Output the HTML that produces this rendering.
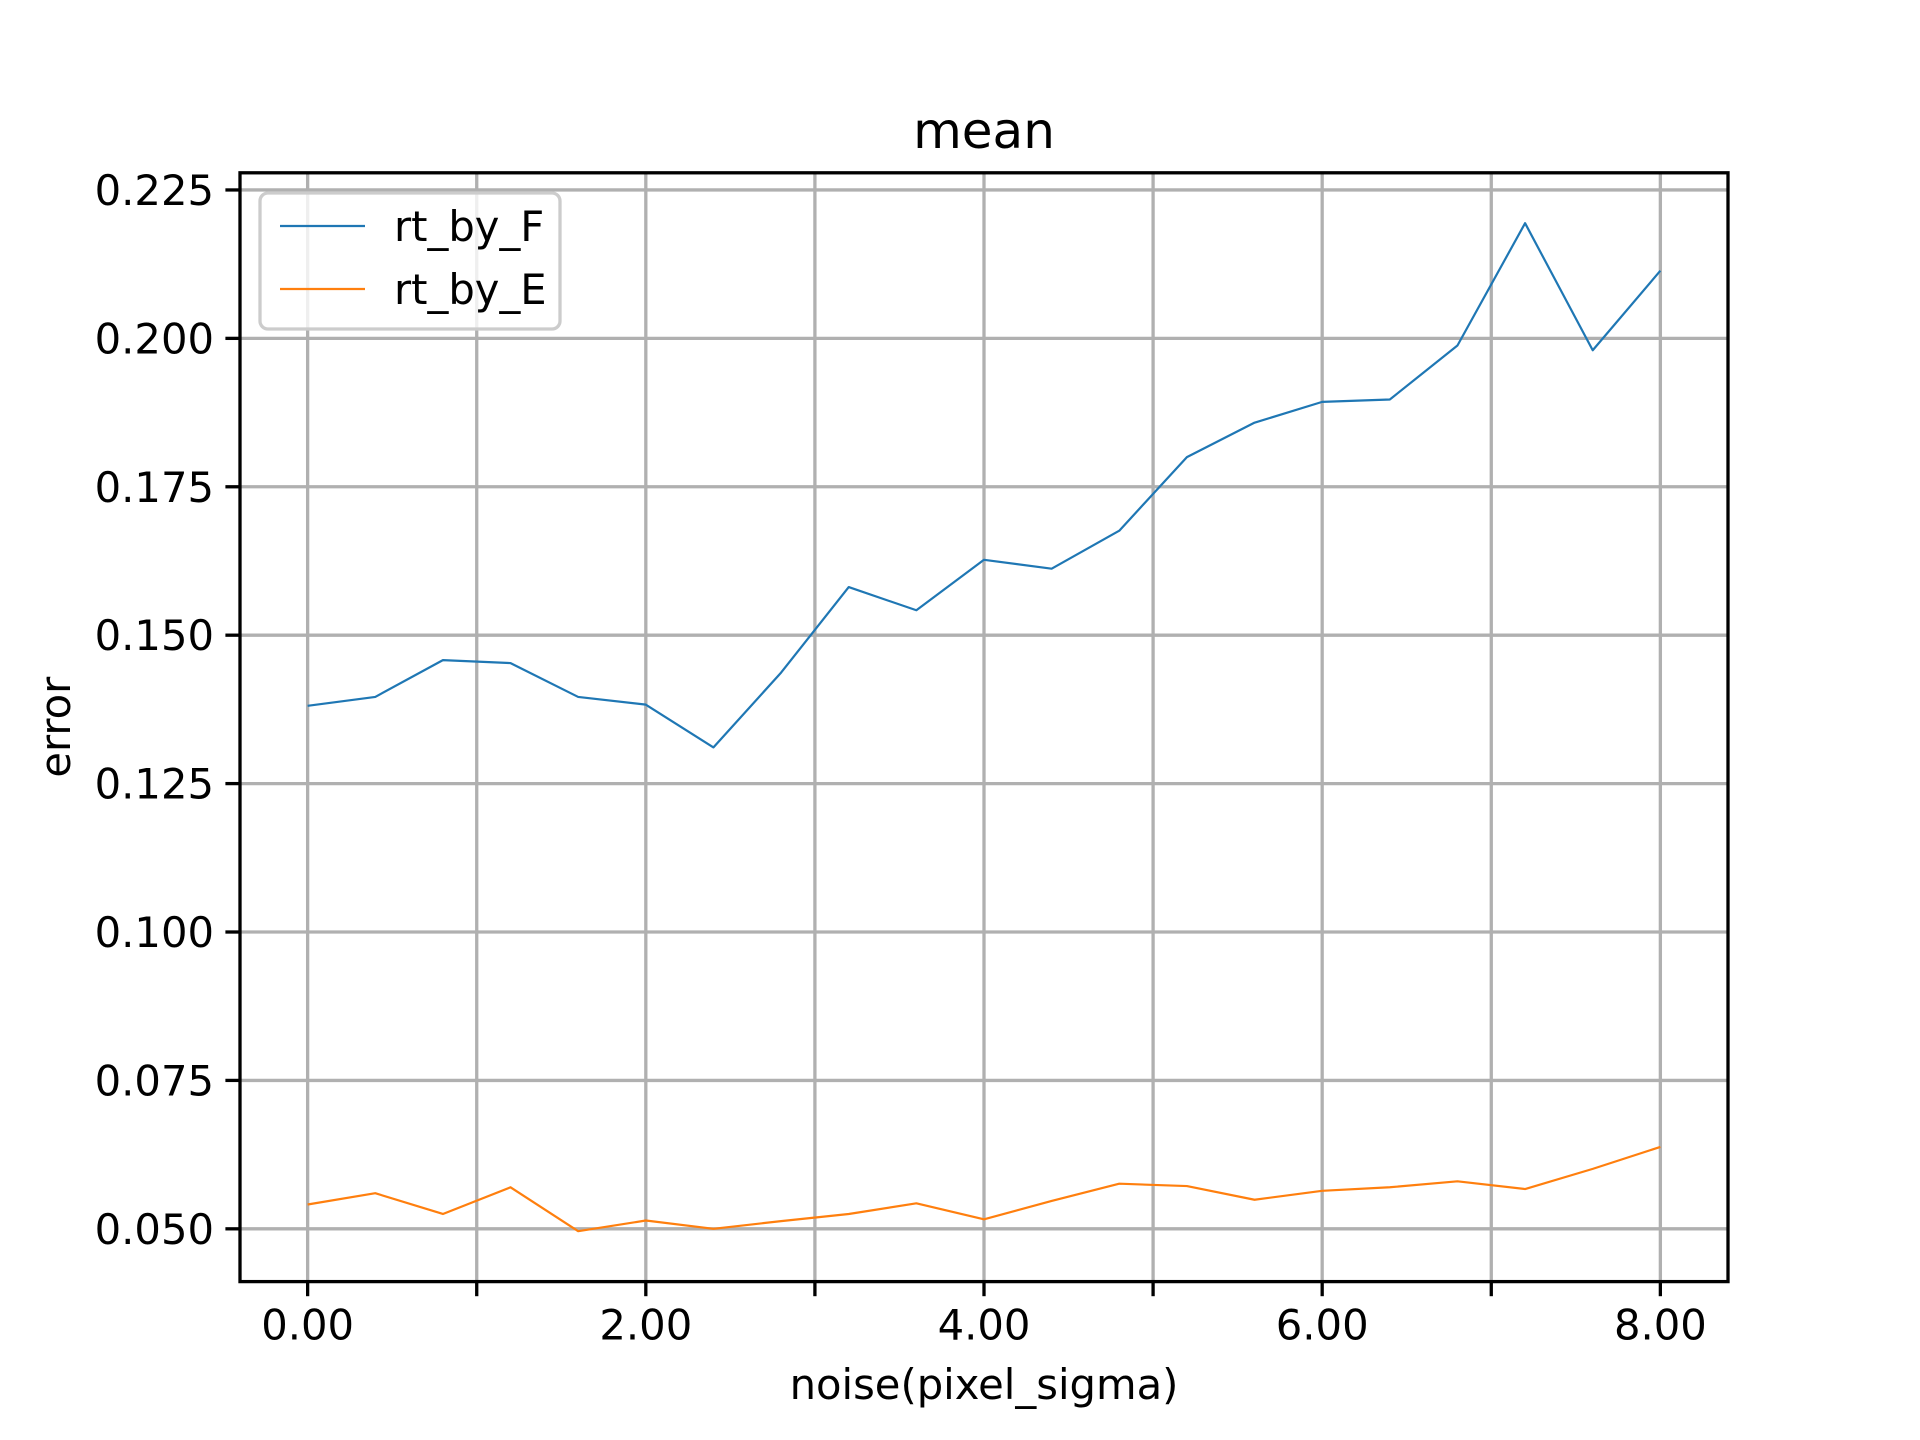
<!DOCTYPE html>
<html><head><meta charset="utf-8"><style>
html,body{margin:0;padding:0;background:#fff;}
svg{display:block;font-family:"DejaVu Sans","Liberation Sans",sans-serif;}
</style></head><body>
<svg id="chart" width="1920" height="1440" viewBox="0 0 1920 1440">
<rect width="1920" height="1440" fill="#fff"/>
<g id="grid"></g><g id="series"></g><g id="axes"></g><g id="legend"></g>
</svg>
<script>
const xValues=[0,0.4,0.8,1.2,1.6,2,2.4,2.8,3.2,3.6,4,4.4,4.8,5.2,5.6,6,6.4,6.8,7.2,7.6,8];
const seriesF=[0.1381,0.1396,0.1458,0.1453,0.1396,0.1383,0.1311,0.1437,0.1581,0.1542,0.1627,0.1612,0.1676,0.1800,0.1858,0.1893,0.1897,0.1988,0.2194,0.1980,0.2114];
const seriesE=[0.0541,0.0560,0.0525,0.0570,0.0496,0.0514,0.0500,0.0513,0.0525,0.0543,0.0516,0.0547,0.0576,0.0572,0.0549,0.0564,0.0570,0.0580,0.0567,0.0601,0.0638];
const xTicks=[0,1,2,3,4,5,6,7,8];
const xTickLabels=["0.00","","2.00","","4.00","","6.00","","8.00"];
const yTicks=[0.05,0.075,0.1,0.125,0.15,0.175,0.2,0.225];
const yTickLabels=["0.050","0.075","0.100","0.125","0.150","0.175","0.200","0.225"];
const seriesNames=["rt_by_F","rt_by_E"];
const seriesColors=["#1f77b4","#ff7f0e"];

const L=240,R=1728,T=172.8,B=1281.6;
const all=seriesF.concat(seriesE);
let ymin=Math.min(...all),ymax=Math.max(...all),pad=(ymax-ymin)*0.05;
ymin-=pad;ymax+=pad;
let xmin=Math.min(...xValues),xmax=Math.max(...xValues),xp=(xmax-xmin)*0.05;
xmin-=xp;xmax+=xp;
const sx=v=>L+(v-xmin)/(xmax-xmin)*(R-L);
const sy=v=>B-(v-ymin)/(ymax-ymin)*(B-T);
const NS="http://www.w3.org/2000/svg";
function mk(tag,attrs,parent){const e=document.createElementNS(NS,tag);for(const k in attrs)e.setAttribute(k,attrs[k]);parent.appendChild(e);return e;}
const grid=document.getElementById('grid'),series=document.getElementById('series'),axes=document.getElementById('axes'),legend=document.getElementById('legend');

xTicks.forEach((t,i)=>{
  const x=sx(t);
  const g=mk('line',{x1:x,x2:x,y1:T,y2:B,stroke:'#b0b0b0','stroke-width':3.3},grid);
  
  
  const tk=mk('line',{x1:x,x2:x,y1:B,y2:B+14.6,stroke:'#000','stroke-width':3.3},axes);
  
  
  if(xTickLabels[i]){
    const tx=mk('text',{x:x,y:B+58,'font-size':41.7,'text-anchor':'middle',fill:'#000'},axes);
    tx.textContent=xTickLabels[i];
    
    
  }
});
yTicks.forEach((t,i)=>{
  const y=sy(t);
  const g=mk('line',{x1:L,x2:R,y1:y,y2:y,stroke:'#b0b0b0','stroke-width':3.3},grid);
  
  
  const tk=mk('line',{x1:L-14.6,x2:L,y1:y,y2:y,stroke:'#000','stroke-width':3.3},axes);
  
  
  const tx=mk('text',{x:L-26,y:y+15,'font-size':41.7,'text-anchor':'end',fill:'#000'},axes);
  tx.textContent=yTickLabels[i];
  
  
});
[seriesF,seriesE].forEach((s,k)=>{
  const p=mk('polyline',{points:s.map((v,i)=>sx(xValues[i])+','+sy(v)).join(' '),fill:'none',stroke:seriesColors[k],'stroke-width':2.2,'stroke-linejoin':'round'},series);
  
  
});
const frame=mk('rect',{x:L,y:T,width:R-L,height:B-T,fill:'none',stroke:'#000','stroke-width':3.3},axes);


const title=mk('text',{x:(L+R)/2,y:148,'font-size':50,'text-anchor':'middle',fill:'#000'},axes);
title.textContent='mean';


const xl=mk('text',{x:(L+R)/2,y:1399,'font-size':41.7,'text-anchor':'middle',fill:'#000'},axes);
xl.textContent='noise(pixel_sigma)';


const yl=mk('text',{x:0,y:0,'font-size':41.7,'text-anchor':'middle',fill:'#000',transform:'translate(70,'+((T+B)/2)+') rotate(-90)'},axes);
yl.textContent='error';


const lb=mk('rect',{x:260,y:193,width:300,height:136,rx:8,fill:'#fff','fill-opacity':0.8,stroke:'#ccc','stroke-width':3.3},legend);


seriesNames.forEach((n,k)=>{
  const y=226+k*63;
  const ln=mk('line',{x1:280,x2:365,y1:y,y2:y,stroke:seriesColors[k],'stroke-width':2.2},legend);
  
  
  const t=mk('text',{x:394,y:y+15,'font-size':41.7,fill:'#000'},legend);
  t.textContent=n;
  
  
});
</script>
</body></html>
